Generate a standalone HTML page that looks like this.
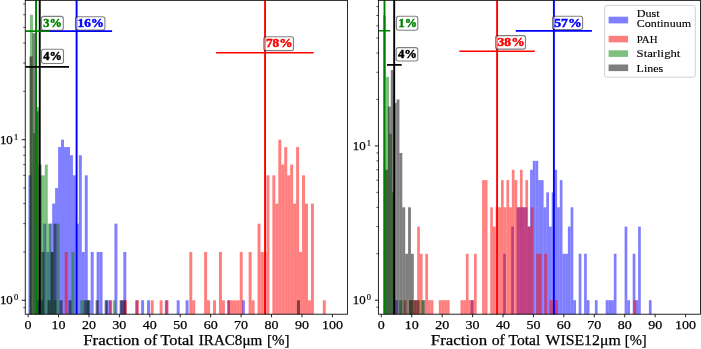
<!DOCTYPE html>
<html><head><meta charset="utf-8"><style>html,body{margin:0;padding:0;background:#fff;overflow:hidden}svg{display:block;will-change:transform}</style></head>
<body>
<svg width="701" height="349" viewBox="0 0 701 349">
<rect x="0" y="0" width="701" height="349" fill="#fff"/>
<defs>
<clipPath id="clipL"><rect x="25.25" y="0.35" width="322.25" height="313.85"/></clipPath>
<clipPath id="clipR"><rect x="378.4" y="0.35" width="322.10" height="313.85"/></clipPath>
</defs>
<g clip-path="url(#clipL)">
<g fill="#0000ff" fill-opacity="0.5"><rect x="28.45" y="175.33" width="2.96" height="140.87"/><rect x="37.34" y="300.30" width="2.96" height="15.90"/><rect x="40.31" y="300.30" width="2.96" height="15.90"/><rect x="43.27" y="223.67" width="2.96" height="92.53"/><rect x="46.24" y="251.95" width="2.96" height="64.25"/><rect x="49.20" y="223.67" width="2.96" height="92.53"/><rect x="52.17" y="203.61" width="2.96" height="112.59"/><rect x="55.13" y="188.05" width="2.96" height="128.15"/><rect x="58.10" y="147.05" width="2.96" height="169.15"/><rect x="61.06" y="139.70" width="2.96" height="176.50"/><rect x="64.03" y="147.05" width="2.96" height="169.15"/><rect x="67.00" y="147.05" width="2.96" height="169.15"/><rect x="69.96" y="155.26" width="2.96" height="160.94"/><rect x="72.92" y="175.33" width="2.96" height="140.87"/><rect x="75.89" y="223.67" width="2.96" height="92.53"/><rect x="78.86" y="155.26" width="2.96" height="160.94"/><rect x="81.82" y="251.95" width="2.96" height="64.25"/><rect x="84.78" y="175.33" width="2.96" height="140.87"/><rect x="87.75" y="300.30" width="2.96" height="15.90"/><rect x="90.72" y="251.95" width="2.96" height="64.25"/><rect x="96.64" y="251.95" width="2.96" height="64.25"/><rect x="99.61" y="251.95" width="2.96" height="64.25"/><rect x="105.54" y="300.30" width="2.96" height="15.90"/><rect x="108.50" y="300.30" width="2.96" height="15.90"/><rect x="114.44" y="223.67" width="2.96" height="92.53"/><rect x="120.36" y="300.30" width="2.96" height="15.90"/><rect x="123.33" y="251.95" width="2.96" height="64.25"/><rect x="135.19" y="300.30" width="2.96" height="15.90"/><rect x="141.12" y="300.30" width="2.96" height="15.90"/><rect x="147.05" y="300.30" width="2.96" height="15.90"/><rect x="164.84" y="300.30" width="2.96" height="15.90"/><rect x="176.70" y="300.30" width="2.96" height="15.90"/><rect x="185.59" y="300.30" width="2.96" height="15.90"/><rect x="227.10" y="300.30" width="2.96" height="15.90"/><rect x="241.93" y="300.30" width="2.96" height="15.90"/></g>
<g fill="#ff0000" fill-opacity="0.5"><rect x="64.69" y="251.95" width="2.97" height="64.25"/><rect x="109.19" y="300.30" width="2.97" height="15.90"/><rect x="124.03" y="300.30" width="2.97" height="15.90"/><rect x="135.89" y="300.30" width="2.97" height="15.90"/><rect x="150.73" y="300.30" width="2.97" height="15.90"/><rect x="159.63" y="300.30" width="2.97" height="15.90"/><rect x="165.56" y="300.30" width="2.97" height="15.90"/><rect x="189.30" y="251.95" width="2.97" height="64.25"/><rect x="192.27" y="300.30" width="2.97" height="15.90"/><rect x="204.14" y="251.95" width="2.97" height="64.25"/><rect x="207.10" y="300.30" width="2.97" height="15.90"/><rect x="213.04" y="300.30" width="2.97" height="15.90"/><rect x="218.97" y="251.95" width="2.97" height="64.25"/><rect x="221.94" y="300.30" width="2.97" height="15.90"/><rect x="227.87" y="300.30" width="2.97" height="15.90"/><rect x="230.84" y="300.30" width="2.97" height="15.90"/><rect x="233.81" y="300.30" width="2.97" height="15.90"/><rect x="236.77" y="300.30" width="2.97" height="15.90"/><rect x="239.74" y="251.95" width="2.97" height="64.25"/><rect x="248.64" y="251.95" width="2.97" height="64.25"/><rect x="251.61" y="300.30" width="2.97" height="15.90"/><rect x="257.54" y="223.67" width="2.97" height="92.53"/><rect x="260.51" y="251.95" width="2.97" height="64.25"/><rect x="263.48" y="251.95" width="2.97" height="64.25"/><rect x="266.44" y="175.33" width="2.97" height="140.87"/><rect x="272.38" y="175.33" width="2.97" height="140.87"/><rect x="275.34" y="203.61" width="2.97" height="112.59"/><rect x="278.31" y="139.70" width="2.97" height="176.50"/><rect x="281.28" y="164.58" width="2.97" height="151.62"/><rect x="284.25" y="147.05" width="2.97" height="169.15"/><rect x="287.21" y="175.33" width="2.97" height="140.87"/><rect x="290.18" y="164.58" width="2.97" height="151.62"/><rect x="293.15" y="203.61" width="2.97" height="112.59"/><rect x="296.11" y="147.05" width="2.97" height="169.15"/><rect x="299.08" y="251.95" width="2.97" height="64.25"/><rect x="302.05" y="175.33" width="2.97" height="140.87"/><rect x="305.01" y="203.61" width="2.97" height="112.59"/><rect x="307.98" y="300.30" width="2.97" height="15.90"/><rect x="310.95" y="203.61" width="2.97" height="112.59"/><rect x="322.82" y="300.30" width="2.97" height="15.90"/></g>
<g fill="#008000" fill-opacity="0.5"><rect x="30.00" y="14.73" width="2.96" height="301.47"/><rect x="32.96" y="133.05" width="2.96" height="183.15"/><rect x="35.92" y="106.92" width="2.96" height="209.28"/><rect x="38.88" y="175.33" width="2.96" height="140.87"/><rect x="41.84" y="175.33" width="2.96" height="140.87"/><rect x="44.80" y="164.58" width="2.96" height="151.62"/><rect x="47.76" y="223.67" width="2.96" height="92.53"/><rect x="50.72" y="251.95" width="2.96" height="64.25"/><rect x="53.68" y="300.30" width="2.96" height="15.90"/><rect x="56.64" y="223.67" width="2.96" height="92.53"/><rect x="71.44" y="251.95" width="2.96" height="64.25"/><rect x="80.32" y="300.30" width="2.96" height="15.90"/><rect x="86.24" y="300.30" width="2.96" height="15.90"/><rect x="112.88" y="300.30" width="2.96" height="15.90"/></g>
<g fill="#000000" fill-opacity="0.5"><rect x="29.50" y="56.43" width="3.00" height="259.77"/><rect x="32.51" y="33.26" width="3.00" height="282.94"/><rect x="35.51" y="111.42" width="3.00" height="204.78"/><rect x="38.52" y="164.58" width="3.00" height="151.62"/><rect x="41.52" y="251.95" width="3.00" height="64.25"/><rect x="47.53" y="300.30" width="3.00" height="15.90"/><rect x="50.53" y="251.95" width="3.00" height="64.25"/><rect x="53.54" y="223.67" width="3.00" height="92.53"/><rect x="59.55" y="300.30" width="3.00" height="15.90"/><rect x="68.56" y="300.30" width="3.00" height="15.90"/><rect x="83.59" y="300.30" width="3.00" height="15.90"/><rect x="86.59" y="300.30" width="3.00" height="15.90"/><rect x="95.61" y="300.30" width="3.00" height="15.90"/><rect x="104.62" y="300.30" width="3.00" height="15.90"/><rect x="119.65" y="300.30" width="3.00" height="15.90"/><rect x="122.66" y="300.30" width="3.00" height="15.90"/><rect x="296.94" y="300.30" width="3.00" height="15.90"/></g>
<line x1="76.6" y1="-1.65" x2="76.6" y2="316.2" stroke="#0000ff" stroke-width="1.9"/>
<line x1="265.05" y1="-1.65" x2="265.05" y2="316.2" stroke="#ff0000" stroke-width="1.9"/>
<line x1="36.05" y1="-1.65" x2="36.05" y2="316.2" stroke="#008000" stroke-width="1.9"/>
<line x1="39.75" y1="-1.65" x2="39.75" y2="316.2" stroke="#000000" stroke-width="1.9"/>
<line x1="40.0" y1="31.1" x2="112.1" y2="31.1" stroke="#0000ff" stroke-width="1.6"/>
<line x1="216.1" y1="52.7" x2="313.7" y2="52.7" stroke="#ff0000" stroke-width="1.6"/>
<line x1="25.5" y1="31.1" x2="49.7" y2="31.1" stroke="#008000" stroke-width="1.6"/>
<line x1="25.5" y1="66.9" x2="69.0" y2="66.9" stroke="#000000" stroke-width="1.6"/>
</g>
<rect x="41.4" y="16.4" width="21.90" height="13.80" rx="2.2" ry="2.2" fill="#fff" fill-opacity="0.5" stroke="#000" stroke-opacity="0.5" stroke-width="1.1"/>
<text x="43.2" y="26.8" font-family="Liberation Serif" font-weight="bold" font-size="12.2" fill="#008000" stroke="#008000" stroke-width="0.45" textLength="18.60" lengthAdjust="spacingAndGlyphs">3%</text>
<rect x="75.5" y="16.8" width="29.40" height="13.20" rx="2.2" ry="2.2" fill="#fff" fill-opacity="0.5" stroke="#000" stroke-opacity="0.5" stroke-width="1.1"/>
<text x="77.5" y="27.0" font-family="Liberation Serif" font-weight="bold" font-size="12.2" fill="#0000ff" stroke="#0000ff" stroke-width="0.45" textLength="26.50" lengthAdjust="spacingAndGlyphs">16%</text>
<rect x="41.5" y="49.2" width="22.00" height="14.30" rx="2.2" ry="2.2" fill="#fff" fill-opacity="0.5" stroke="#000" stroke-opacity="0.5" stroke-width="1.1"/>
<text x="43.3" y="60.0" font-family="Liberation Serif" font-weight="bold" font-size="12.2" fill="#000000" stroke="#000000" stroke-width="0.45" textLength="18.70" lengthAdjust="spacingAndGlyphs">4%</text>
<rect x="263.8" y="36.7" width="29.70" height="13.90" rx="2.2" ry="2.2" fill="#fff" fill-opacity="0.5" stroke="#000" stroke-opacity="0.5" stroke-width="1.1"/>
<text x="265.9" y="46.8" font-family="Liberation Serif" font-weight="bold" font-size="12.2" fill="#ff0000" stroke="#ff0000" stroke-width="0.45" textLength="26.60" lengthAdjust="spacingAndGlyphs">78%</text>
<rect x="25.25" y="0.35" width="322.25" height="313.85" fill="none" stroke="#000" stroke-width="0.85"/>
<line x1="28.10" y1="314.2" x2="28.10" y2="317.3" stroke="#000" stroke-width="0.85"/>
<text x="28.10" y="328.8" font-family="Liberation Serif" font-size="12.8" text-anchor="middle" fill="#000" stroke="#000" stroke-width="0.25" textLength="7.0" lengthAdjust="spacingAndGlyphs">0</text>
<line x1="58.53" y1="314.2" x2="58.53" y2="317.3" stroke="#000" stroke-width="0.85"/>
<text x="58.53" y="328.8" font-family="Liberation Serif" font-size="12.8" text-anchor="middle" fill="#000" stroke="#000" stroke-width="0.25" textLength="14.0" lengthAdjust="spacingAndGlyphs">10</text>
<line x1="88.96" y1="314.2" x2="88.96" y2="317.3" stroke="#000" stroke-width="0.85"/>
<text x="88.96" y="328.8" font-family="Liberation Serif" font-size="12.8" text-anchor="middle" fill="#000" stroke="#000" stroke-width="0.25" textLength="14.0" lengthAdjust="spacingAndGlyphs">20</text>
<line x1="119.39" y1="314.2" x2="119.39" y2="317.3" stroke="#000" stroke-width="0.85"/>
<text x="119.39" y="328.8" font-family="Liberation Serif" font-size="12.8" text-anchor="middle" fill="#000" stroke="#000" stroke-width="0.25" textLength="14.0" lengthAdjust="spacingAndGlyphs">30</text>
<line x1="149.82" y1="314.2" x2="149.82" y2="317.3" stroke="#000" stroke-width="0.85"/>
<text x="149.82" y="328.8" font-family="Liberation Serif" font-size="12.8" text-anchor="middle" fill="#000" stroke="#000" stroke-width="0.25" textLength="14.0" lengthAdjust="spacingAndGlyphs">40</text>
<line x1="180.25" y1="314.2" x2="180.25" y2="317.3" stroke="#000" stroke-width="0.85"/>
<text x="180.25" y="328.8" font-family="Liberation Serif" font-size="12.8" text-anchor="middle" fill="#000" stroke="#000" stroke-width="0.25" textLength="14.0" lengthAdjust="spacingAndGlyphs">50</text>
<line x1="210.68" y1="314.2" x2="210.68" y2="317.3" stroke="#000" stroke-width="0.85"/>
<text x="210.68" y="328.8" font-family="Liberation Serif" font-size="12.8" text-anchor="middle" fill="#000" stroke="#000" stroke-width="0.25" textLength="14.0" lengthAdjust="spacingAndGlyphs">60</text>
<line x1="241.11" y1="314.2" x2="241.11" y2="317.3" stroke="#000" stroke-width="0.85"/>
<text x="241.11" y="328.8" font-family="Liberation Serif" font-size="12.8" text-anchor="middle" fill="#000" stroke="#000" stroke-width="0.25" textLength="14.0" lengthAdjust="spacingAndGlyphs">70</text>
<line x1="271.54" y1="314.2" x2="271.54" y2="317.3" stroke="#000" stroke-width="0.85"/>
<text x="271.54" y="328.8" font-family="Liberation Serif" font-size="12.8" text-anchor="middle" fill="#000" stroke="#000" stroke-width="0.25" textLength="14.0" lengthAdjust="spacingAndGlyphs">80</text>
<line x1="301.97" y1="314.2" x2="301.97" y2="317.3" stroke="#000" stroke-width="0.85"/>
<text x="301.97" y="328.8" font-family="Liberation Serif" font-size="12.8" text-anchor="middle" fill="#000" stroke="#000" stroke-width="0.25" textLength="14.0" lengthAdjust="spacingAndGlyphs">90</text>
<line x1="332.40" y1="314.2" x2="332.40" y2="317.3" stroke="#000" stroke-width="0.85"/>
<text x="332.40" y="328.8" font-family="Liberation Serif" font-size="12.8" text-anchor="middle" fill="#000" stroke="#000" stroke-width="0.25" textLength="21.0" lengthAdjust="spacingAndGlyphs">100</text>
<line x1="21.75" y1="300.30" x2="25.25" y2="300.30" stroke="#000" stroke-width="0.9"/>
<line x1="21.75" y1="139.70" x2="25.25" y2="139.70" stroke="#000" stroke-width="0.9"/>
<line x1="23.25" y1="307.65" x2="25.25" y2="307.65" stroke="#000" stroke-width="0.7"/>
<line x1="23.25" y1="251.95" x2="25.25" y2="251.95" stroke="#000" stroke-width="0.7"/>
<line x1="23.25" y1="223.67" x2="25.25" y2="223.67" stroke="#000" stroke-width="0.7"/>
<line x1="23.25" y1="203.61" x2="25.25" y2="203.61" stroke="#000" stroke-width="0.7"/>
<line x1="23.25" y1="188.05" x2="25.25" y2="188.05" stroke="#000" stroke-width="0.7"/>
<line x1="23.25" y1="175.33" x2="25.25" y2="175.33" stroke="#000" stroke-width="0.7"/>
<line x1="23.25" y1="164.58" x2="25.25" y2="164.58" stroke="#000" stroke-width="0.7"/>
<line x1="23.25" y1="155.26" x2="25.25" y2="155.26" stroke="#000" stroke-width="0.7"/>
<line x1="23.25" y1="147.05" x2="25.25" y2="147.05" stroke="#000" stroke-width="0.7"/>
<line x1="23.25" y1="91.35" x2="25.25" y2="91.35" stroke="#000" stroke-width="0.7"/>
<line x1="23.25" y1="63.07" x2="25.25" y2="63.07" stroke="#000" stroke-width="0.7"/>
<line x1="23.25" y1="43.01" x2="25.25" y2="43.01" stroke="#000" stroke-width="0.7"/>
<line x1="23.25" y1="27.45" x2="25.25" y2="27.45" stroke="#000" stroke-width="0.7"/>
<line x1="23.25" y1="14.73" x2="25.25" y2="14.73" stroke="#000" stroke-width="0.7"/>
<line x1="23.25" y1="3.98" x2="25.25" y2="3.98" stroke="#000" stroke-width="0.7"/>
<g clip-path="url(#clipR)">
<g fill="#0000ff" fill-opacity="0.5"><rect x="395.10" y="300.20" width="2.70" height="16.00"/><rect x="470.70" y="300.20" width="2.70" height="16.00"/><rect x="503.10" y="253.75" width="2.70" height="62.45"/><rect x="511.20" y="226.58" width="2.70" height="89.62"/><rect x="516.60" y="207.30" width="2.70" height="108.90"/><rect x="519.30" y="207.30" width="2.70" height="108.90"/><rect x="522.00" y="207.30" width="2.70" height="108.90"/><rect x="524.70" y="207.30" width="2.70" height="108.90"/><rect x="527.40" y="226.58" width="2.70" height="89.62"/><rect x="530.10" y="169.80" width="2.70" height="146.40"/><rect x="532.80" y="160.85" width="2.70" height="155.35"/><rect x="535.50" y="160.85" width="2.70" height="155.35"/><rect x="538.20" y="180.13" width="2.70" height="136.07"/><rect x="540.90" y="180.13" width="2.70" height="136.07"/><rect x="543.60" y="207.30" width="2.70" height="108.90"/><rect x="546.30" y="192.35" width="2.70" height="123.85"/><rect x="549.00" y="226.58" width="2.70" height="89.62"/><rect x="551.70" y="192.35" width="2.70" height="123.85"/><rect x="554.40" y="169.80" width="2.70" height="146.40"/><rect x="557.10" y="207.30" width="2.70" height="108.90"/><rect x="559.80" y="180.13" width="2.70" height="136.07"/><rect x="562.50" y="253.75" width="2.70" height="62.45"/><rect x="565.20" y="253.75" width="2.70" height="62.45"/><rect x="567.90" y="226.58" width="2.70" height="89.62"/><rect x="570.60" y="207.30" width="2.70" height="108.90"/><rect x="573.30" y="300.20" width="2.70" height="16.00"/><rect x="578.70" y="253.75" width="2.70" height="62.45"/><rect x="584.10" y="253.75" width="2.70" height="62.45"/><rect x="586.80" y="300.20" width="2.70" height="16.00"/><rect x="594.90" y="300.20" width="2.70" height="16.00"/><rect x="605.70" y="300.20" width="2.70" height="16.00"/><rect x="608.40" y="300.20" width="2.70" height="16.00"/><rect x="611.10" y="300.20" width="2.70" height="16.00"/><rect x="613.80" y="253.75" width="2.70" height="62.45"/><rect x="624.60" y="226.58" width="2.70" height="89.62"/><rect x="627.30" y="300.20" width="2.70" height="16.00"/><rect x="632.70" y="253.75" width="2.70" height="62.45"/><rect x="635.40" y="300.20" width="2.70" height="16.00"/><rect x="638.10" y="226.58" width="2.70" height="89.62"/><rect x="648.90" y="300.20" width="2.70" height="16.00"/></g>
<g fill="#ff0000" fill-opacity="0.5"><rect x="403.68" y="300.20" width="2.70" height="16.00"/><rect x="409.09" y="300.20" width="2.70" height="16.00"/><rect x="411.79" y="300.20" width="2.70" height="16.00"/><rect x="414.50" y="300.20" width="2.70" height="16.00"/><rect x="417.20" y="226.58" width="2.70" height="89.62"/><rect x="419.90" y="253.75" width="2.70" height="62.45"/><rect x="425.31" y="253.75" width="2.70" height="62.45"/><rect x="428.02" y="300.20" width="2.70" height="16.00"/><rect x="430.72" y="300.20" width="2.70" height="16.00"/><rect x="438.83" y="300.20" width="2.70" height="16.00"/><rect x="441.54" y="300.20" width="2.70" height="16.00"/><rect x="444.24" y="300.20" width="2.70" height="16.00"/><rect x="446.94" y="300.20" width="2.70" height="16.00"/><rect x="460.46" y="300.20" width="2.70" height="16.00"/><rect x="463.17" y="300.20" width="2.70" height="16.00"/><rect x="465.87" y="253.75" width="2.70" height="62.45"/><rect x="468.58" y="300.20" width="2.70" height="16.00"/><rect x="471.28" y="300.20" width="2.70" height="16.00"/><rect x="473.98" y="253.75" width="2.70" height="62.45"/><rect x="482.10" y="180.13" width="2.70" height="136.07"/><rect x="484.80" y="180.13" width="2.70" height="136.07"/><rect x="490.21" y="207.30" width="2.70" height="108.90"/><rect x="492.91" y="226.58" width="2.70" height="89.62"/><rect x="495.62" y="207.30" width="2.70" height="108.90"/><rect x="498.32" y="207.30" width="2.70" height="108.90"/><rect x="501.02" y="180.13" width="2.70" height="136.07"/><rect x="503.73" y="207.30" width="2.70" height="108.90"/><rect x="506.43" y="180.13" width="2.70" height="136.07"/><rect x="509.14" y="207.30" width="2.70" height="108.90"/><rect x="511.84" y="169.80" width="2.70" height="146.40"/><rect x="514.54" y="180.13" width="2.70" height="136.07"/><rect x="517.25" y="207.30" width="2.70" height="108.90"/><rect x="519.95" y="169.80" width="2.70" height="146.40"/><rect x="522.66" y="207.30" width="2.70" height="108.90"/><rect x="525.36" y="180.13" width="2.70" height="136.07"/><rect x="528.06" y="226.58" width="2.70" height="89.62"/><rect x="530.77" y="207.30" width="2.70" height="108.90"/><rect x="536.18" y="253.75" width="2.70" height="62.45"/><rect x="538.88" y="253.75" width="2.70" height="62.45"/><rect x="544.29" y="253.75" width="2.70" height="62.45"/><rect x="549.70" y="300.20" width="2.70" height="16.00"/><rect x="552.40" y="300.20" width="2.70" height="16.00"/><rect x="555.10" y="300.20" width="2.70" height="16.00"/><rect x="633.52" y="300.20" width="2.70" height="16.00"/></g>
<g fill="#008000" fill-opacity="0.5"><rect x="383.00" y="15.50" width="3.00" height="300.70"/><rect x="386.00" y="76.90" width="3.00" height="239.30"/><rect x="389.00" y="133.68" width="3.00" height="182.52"/><rect x="392.00" y="192.35" width="3.00" height="123.85"/><rect x="398.90" y="300.20" width="3.60" height="16.00"/><rect x="409.30" y="300.20" width="3.30" height="16.00"/><rect x="420.60" y="300.20" width="3.00" height="16.00"/></g>
<g fill="#000000" fill-opacity="0.5"><rect x="385.02" y="169.80" width="2.88" height="146.40"/><rect x="387.90" y="106.51" width="2.88" height="209.69"/><rect x="390.78" y="70.08" width="2.88" height="246.12"/><rect x="393.66" y="102.89" width="2.88" height="213.31"/><rect x="396.54" y="99.45" width="2.88" height="216.75"/><rect x="399.42" y="152.96" width="2.88" height="163.24"/><rect x="402.30" y="207.30" width="2.88" height="108.90"/><rect x="405.18" y="253.75" width="2.88" height="62.45"/><rect x="408.06" y="207.30" width="2.88" height="108.90"/><rect x="410.94" y="253.75" width="2.88" height="62.45"/><rect x="413.82" y="300.20" width="2.88" height="16.00"/><rect x="416.70" y="300.20" width="2.88" height="16.00"/><rect x="422.46" y="300.20" width="2.88" height="16.00"/></g>
<line x1="553.9" y1="-1.65" x2="553.9" y2="316.2" stroke="#0000ff" stroke-width="1.9"/>
<line x1="497.1" y1="-1.65" x2="497.1" y2="316.2" stroke="#ff0000" stroke-width="1.9"/>
<line x1="384.5" y1="-1.65" x2="384.5" y2="316.2" stroke="#008000" stroke-width="1.9"/>
<line x1="394.2" y1="-1.65" x2="394.2" y2="316.2" stroke="#000000" stroke-width="1.9"/>
<line x1="515.8" y1="30.9" x2="591.9" y2="30.9" stroke="#0000ff" stroke-width="1.6"/>
<line x1="459.4" y1="51.3" x2="534.8" y2="51.3" stroke="#ff0000" stroke-width="1.6"/>
<line x1="378.5" y1="30.8" x2="390.3" y2="30.8" stroke="#008000" stroke-width="1.6"/>
<line x1="387.0" y1="64.9" x2="401.7" y2="64.9" stroke="#000000" stroke-width="1.6"/>
</g>
<rect x="396.4" y="16.3" width="21.40" height="13.90" rx="2.2" ry="2.2" fill="#fff" fill-opacity="0.5" stroke="#000" stroke-opacity="0.5" stroke-width="1.1"/>
<text x="398.5" y="26.7" font-family="Liberation Serif" font-weight="bold" font-size="12.2" fill="#008000" stroke="#008000" stroke-width="0.45" textLength="18.50" lengthAdjust="spacingAndGlyphs">1%</text>
<rect x="552.5" y="16.2" width="30.10" height="13.30" rx="2.2" ry="2.2" fill="#fff" fill-opacity="0.5" stroke="#000" stroke-opacity="0.5" stroke-width="1.1"/>
<text x="554.2" y="26.5" font-family="Liberation Serif" font-weight="bold" font-size="12.2" fill="#0000ff" stroke="#0000ff" stroke-width="0.45" textLength="27.60" lengthAdjust="spacingAndGlyphs">57%</text>
<rect x="396.2" y="47.6" width="21.60" height="13.40" rx="2.2" ry="2.2" fill="#fff" fill-opacity="0.5" stroke="#000" stroke-opacity="0.5" stroke-width="1.1"/>
<text x="397.9" y="58.0" font-family="Liberation Serif" font-weight="bold" font-size="12.2" fill="#000000" stroke="#000000" stroke-width="0.45" textLength="19.10" lengthAdjust="spacingAndGlyphs">4%</text>
<rect x="495.6" y="35.6" width="29.90" height="13.50" rx="2.2" ry="2.2" fill="#fff" fill-opacity="0.5" stroke="#000" stroke-opacity="0.5" stroke-width="1.1"/>
<text x="497.6" y="45.9" font-family="Liberation Serif" font-weight="bold" font-size="12.2" fill="#ff0000" stroke="#ff0000" stroke-width="0.45" textLength="27.10" lengthAdjust="spacingAndGlyphs">38%</text>
<rect x="378.4" y="0.35" width="322.10" height="313.85" fill="none" stroke="#000" stroke-width="0.85"/>
<line x1="381.30" y1="314.2" x2="381.30" y2="317.3" stroke="#000" stroke-width="0.85"/>
<text x="381.30" y="328.8" font-family="Liberation Serif" font-size="12.8" text-anchor="middle" fill="#000" stroke="#000" stroke-width="0.25" textLength="7.0" lengthAdjust="spacingAndGlyphs">0</text>
<line x1="411.73" y1="314.2" x2="411.73" y2="317.3" stroke="#000" stroke-width="0.85"/>
<text x="411.73" y="328.8" font-family="Liberation Serif" font-size="12.8" text-anchor="middle" fill="#000" stroke="#000" stroke-width="0.25" textLength="14.0" lengthAdjust="spacingAndGlyphs">10</text>
<line x1="442.16" y1="314.2" x2="442.16" y2="317.3" stroke="#000" stroke-width="0.85"/>
<text x="442.16" y="328.8" font-family="Liberation Serif" font-size="12.8" text-anchor="middle" fill="#000" stroke="#000" stroke-width="0.25" textLength="14.0" lengthAdjust="spacingAndGlyphs">20</text>
<line x1="472.59" y1="314.2" x2="472.59" y2="317.3" stroke="#000" stroke-width="0.85"/>
<text x="472.59" y="328.8" font-family="Liberation Serif" font-size="12.8" text-anchor="middle" fill="#000" stroke="#000" stroke-width="0.25" textLength="14.0" lengthAdjust="spacingAndGlyphs">30</text>
<line x1="503.02" y1="314.2" x2="503.02" y2="317.3" stroke="#000" stroke-width="0.85"/>
<text x="503.02" y="328.8" font-family="Liberation Serif" font-size="12.8" text-anchor="middle" fill="#000" stroke="#000" stroke-width="0.25" textLength="14.0" lengthAdjust="spacingAndGlyphs">40</text>
<line x1="533.45" y1="314.2" x2="533.45" y2="317.3" stroke="#000" stroke-width="0.85"/>
<text x="533.45" y="328.8" font-family="Liberation Serif" font-size="12.8" text-anchor="middle" fill="#000" stroke="#000" stroke-width="0.25" textLength="14.0" lengthAdjust="spacingAndGlyphs">50</text>
<line x1="563.88" y1="314.2" x2="563.88" y2="317.3" stroke="#000" stroke-width="0.85"/>
<text x="563.88" y="328.8" font-family="Liberation Serif" font-size="12.8" text-anchor="middle" fill="#000" stroke="#000" stroke-width="0.25" textLength="14.0" lengthAdjust="spacingAndGlyphs">60</text>
<line x1="594.31" y1="314.2" x2="594.31" y2="317.3" stroke="#000" stroke-width="0.85"/>
<text x="594.31" y="328.8" font-family="Liberation Serif" font-size="12.8" text-anchor="middle" fill="#000" stroke="#000" stroke-width="0.25" textLength="14.0" lengthAdjust="spacingAndGlyphs">70</text>
<line x1="624.74" y1="314.2" x2="624.74" y2="317.3" stroke="#000" stroke-width="0.85"/>
<text x="624.74" y="328.8" font-family="Liberation Serif" font-size="12.8" text-anchor="middle" fill="#000" stroke="#000" stroke-width="0.25" textLength="14.0" lengthAdjust="spacingAndGlyphs">80</text>
<line x1="655.17" y1="314.2" x2="655.17" y2="317.3" stroke="#000" stroke-width="0.85"/>
<text x="655.17" y="328.8" font-family="Liberation Serif" font-size="12.8" text-anchor="middle" fill="#000" stroke="#000" stroke-width="0.25" textLength="14.0" lengthAdjust="spacingAndGlyphs">90</text>
<line x1="685.60" y1="314.2" x2="685.60" y2="317.3" stroke="#000" stroke-width="0.85"/>
<text x="685.60" y="328.8" font-family="Liberation Serif" font-size="12.8" text-anchor="middle" fill="#000" stroke="#000" stroke-width="0.25" textLength="21.0" lengthAdjust="spacingAndGlyphs">100</text>
<line x1="374.9" y1="300.20" x2="378.4" y2="300.20" stroke="#000" stroke-width="0.9"/>
<line x1="374.9" y1="145.90" x2="378.4" y2="145.90" stroke="#000" stroke-width="0.9"/>
<line x1="376.4" y1="307.26" x2="378.4" y2="307.26" stroke="#000" stroke-width="0.7"/>
<line x1="376.4" y1="253.75" x2="378.4" y2="253.75" stroke="#000" stroke-width="0.7"/>
<line x1="376.4" y1="226.58" x2="378.4" y2="226.58" stroke="#000" stroke-width="0.7"/>
<line x1="376.4" y1="207.30" x2="378.4" y2="207.30" stroke="#000" stroke-width="0.7"/>
<line x1="376.4" y1="192.35" x2="378.4" y2="192.35" stroke="#000" stroke-width="0.7"/>
<line x1="376.4" y1="180.13" x2="378.4" y2="180.13" stroke="#000" stroke-width="0.7"/>
<line x1="376.4" y1="169.80" x2="378.4" y2="169.80" stroke="#000" stroke-width="0.7"/>
<line x1="376.4" y1="160.85" x2="378.4" y2="160.85" stroke="#000" stroke-width="0.7"/>
<line x1="376.4" y1="152.96" x2="378.4" y2="152.96" stroke="#000" stroke-width="0.7"/>
<line x1="376.4" y1="99.45" x2="378.4" y2="99.45" stroke="#000" stroke-width="0.7"/>
<line x1="376.4" y1="72.28" x2="378.4" y2="72.28" stroke="#000" stroke-width="0.7"/>
<line x1="376.4" y1="53.00" x2="378.4" y2="53.00" stroke="#000" stroke-width="0.7"/>
<line x1="376.4" y1="38.05" x2="378.4" y2="38.05" stroke="#000" stroke-width="0.7"/>
<line x1="376.4" y1="25.83" x2="378.4" y2="25.83" stroke="#000" stroke-width="0.7"/>
<line x1="376.4" y1="15.50" x2="378.4" y2="15.50" stroke="#000" stroke-width="0.7"/>
<line x1="376.4" y1="6.55" x2="378.4" y2="6.55" stroke="#000" stroke-width="0.7"/>
<text x="-0.1" y="304.1" font-family="Liberation Serif" font-size="13" fill="#000" stroke="#000" stroke-width="0.25" textLength="12.9" lengthAdjust="spacingAndGlyphs">10</text><text x="13.9" y="299.90000000000003" font-family="Liberation Serif" font-size="8.6" fill="#000" stroke="#000" stroke-width="0.2" textLength="4.2" lengthAdjust="spacingAndGlyphs">0</text>
<text x="-0.1" y="143.8" font-family="Liberation Serif" font-size="13" fill="#000" stroke="#000" stroke-width="0.25" textLength="12.9" lengthAdjust="spacingAndGlyphs">10</text><text x="13.9" y="139.60000000000002" font-family="Liberation Serif" font-size="8.6" fill="#000" stroke="#000" stroke-width="0.2" textLength="4.2" lengthAdjust="spacingAndGlyphs">1</text>
<text x="352.7" y="304.1" font-family="Liberation Serif" font-size="13" fill="#000" stroke="#000" stroke-width="0.25" textLength="12.9" lengthAdjust="spacingAndGlyphs">10</text><text x="366.7" y="299.90000000000003" font-family="Liberation Serif" font-size="8.6" fill="#000" stroke="#000" stroke-width="0.2" textLength="4.2" lengthAdjust="spacingAndGlyphs">0</text>
<text x="352.7" y="150.0" font-family="Liberation Serif" font-size="13" fill="#000" stroke="#000" stroke-width="0.25" textLength="12.9" lengthAdjust="spacingAndGlyphs">10</text><text x="366.7" y="145.8" font-family="Liberation Serif" font-size="8.6" fill="#000" stroke="#000" stroke-width="0.2" textLength="4.2" lengthAdjust="spacingAndGlyphs">1</text>
<text x="83.20" y="344.8" font-family="Liberation Serif" font-size="15" fill="#000" stroke="#000" stroke-width="0.25" textLength="56.40" lengthAdjust="spacingAndGlyphs">Fraction</text>
<text x="144.00" y="344.8" font-family="Liberation Serif" font-size="15" fill="#000" stroke="#000" stroke-width="0.25" textLength="13.20" lengthAdjust="spacingAndGlyphs">of</text>
<text x="160.50" y="344.8" font-family="Liberation Serif" font-size="15" fill="#000" stroke="#000" stroke-width="0.25" textLength="33.40" lengthAdjust="spacingAndGlyphs">Total</text>
<text x="198.80" y="344.8" font-family="Liberation Serif" font-size="15" fill="#000" stroke="#000" stroke-width="0.25" textLength="63.40" lengthAdjust="spacingAndGlyphs">IRAC8μm</text>
<text x="267.10" y="344.8" font-family="Liberation Serif" font-size="15" fill="#000" stroke="#000" stroke-width="0.25" textLength="22.50" lengthAdjust="spacingAndGlyphs">[%]</text>
<text x="430.80" y="344.8" font-family="Liberation Serif" font-size="15" fill="#000" stroke="#000" stroke-width="0.25" textLength="56.30" lengthAdjust="spacingAndGlyphs">Fraction</text>
<text x="491.70" y="344.8" font-family="Liberation Serif" font-size="15" fill="#000" stroke="#000" stroke-width="0.25" textLength="13.20" lengthAdjust="spacingAndGlyphs">of</text>
<text x="508.50" y="344.8" font-family="Liberation Serif" font-size="15" fill="#000" stroke="#000" stroke-width="0.25" textLength="31.70" lengthAdjust="spacingAndGlyphs">Total</text>
<text x="545.50" y="344.8" font-family="Liberation Serif" font-size="15" fill="#000" stroke="#000" stroke-width="0.25" textLength="75.20" lengthAdjust="spacingAndGlyphs">WISE12μm</text>
<text x="624.80" y="344.8" font-family="Liberation Serif" font-size="15" fill="#000" stroke="#000" stroke-width="0.25" textLength="21.80" lengthAdjust="spacingAndGlyphs">[%]</text>
<rect x="604.6" y="5.4" width="90.7" height="71.8" rx="2.5" ry="2.5" fill="#fff" fill-opacity="0.8" stroke="#cccccc" stroke-width="0.9"/>
<rect x="608.6" y="16.7" width="19.5" height="6.7" fill="#7f7fff"/>
<rect x="608.6" y="35.8" width="19.5" height="6.6" fill="#ff7f7f"/>
<rect x="608.6" y="50.3" width="19.5" height="6.6" fill="#7fbf7f"/>
<rect x="608.6" y="64.5" width="19.5" height="6.6" fill="#7f7f7f"/>
<text x="636.8" y="16.8" font-family="Liberation Serif" font-size="10.2" fill="#000" stroke="#000" stroke-width="0.12" textLength="22.8" lengthAdjust="spacingAndGlyphs">Dust</text>
<text x="636.8" y="27.3" font-family="Liberation Serif" font-size="10.2" fill="#000" stroke="#000" stroke-width="0.12" textLength="54.3" lengthAdjust="spacingAndGlyphs">Continuum</text>
<text x="636.8" y="42.6" font-family="Liberation Serif" font-size="10.2" fill="#000" stroke="#000" stroke-width="0.12" textLength="20.7" lengthAdjust="spacingAndGlyphs">PAH</text>
<text x="636.6" y="57.2" font-family="Liberation Serif" font-size="10.2" fill="#000" stroke="#000" stroke-width="0.12" textLength="43.8" lengthAdjust="spacingAndGlyphs">Starlight</text>
<text x="636.6" y="71.5" font-family="Liberation Serif" font-size="10.2" fill="#000" stroke="#000" stroke-width="0.12" textLength="26.6" lengthAdjust="spacingAndGlyphs">Lines</text>
</svg>
</body></html>
